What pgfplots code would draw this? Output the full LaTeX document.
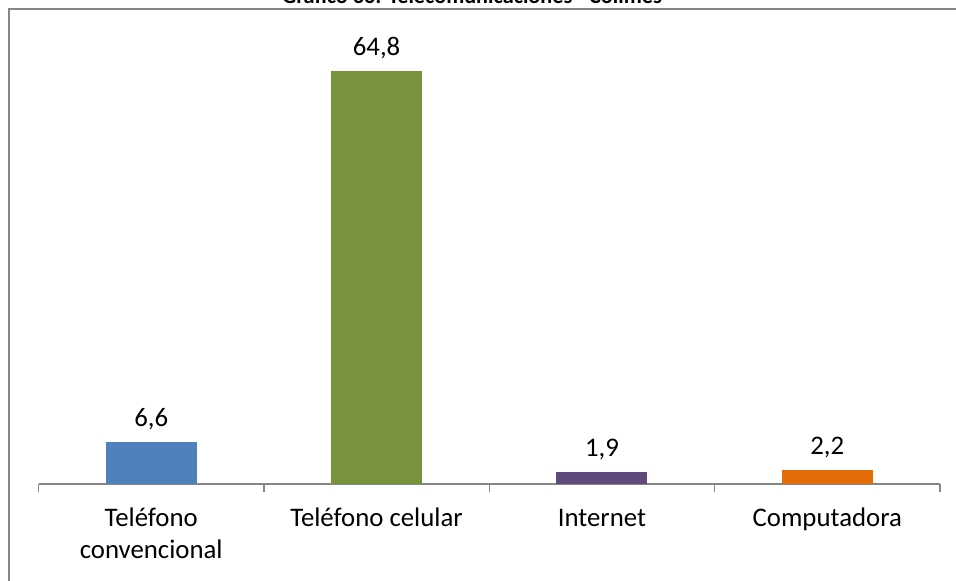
\documentclass[border=0pt]{standalone}
\usepackage{pgfplots}
\pgfplotsset{compat=1.18}
\usepackage{fontspec}
\setmainfont{Carlito}
\definecolor{cblue}{HTML}{4F81BD}
\definecolor{cgreen}{HTML}{77933C}
\definecolor{cpurple}{HTML}{604A7B}
\definecolor{corange}{HTML}{E36C09}
\definecolor{framegray}{HTML}{868686}
\begin{document}
\begin{tikzpicture}
\useasboundingbox (0pt,0pt) rectangle (478pt,-290.5pt);
\node[anchor=base,font=\fontsize{11.1}{13}\selectfont\bfseries,inner sep=0pt] at (236pt,-2pt) {Gráfico 36: Telecomunicaciones - Colimes};
\draw[framegray,line width=0.8pt] (480pt,-4.4pt) -- (4.4pt,-4.4pt) -- (4.4pt,-295pt);
\begin{axis}[
  at={(19.25pt,-242pt)}, anchor=south west,
  scale only axis, width=450.75pt, height=223pt,
  xmin=-0.5, xmax=3.5, ymin=0, ymax=70,
  axis x line*=bottom, axis y line=none,
  x axis line style={framegray,line width=0.7pt},
  xtick={0,1,2,3},
  xticklabels={{\strut Teléfono\\convencional},{\strut Teléfono celular},{\strut Internet},{\strut Computadora}},
  xticklabel style={align=center,font=\fontsize{13.4}{16}\selectfont,text=black,yshift=-6.5pt},
  major tick length=0pt,
  minor xtick={-0.5,0.5,1.5,2.5,3.5},
  minor tick length=4pt,
  tick align=outside,
  minor tick style={framegray,line width=0.7pt},
  ybar, bar width=45.5pt,
  nodes near coords,
  nodes near coords style={font=\fontsize{13.4}{16}\selectfont,text=black,yshift=2.4pt},
  /pgf/number format/.cd, use comma, fixed, fixed zerofill, precision=1, assume math mode=true,
]
\addplot[fill=cblue,draw=none,bar shift=0pt] coordinates {(0,6.6)};
\addplot[fill=cgreen,draw=none,bar shift=0pt] coordinates {(1,64.8)};
\addplot[fill=cpurple,draw=none,bar shift=0pt] coordinates {(2,1.9)};
\addplot[fill=corange,draw=none,bar shift=0pt] coordinates {(3,2.2)};
\end{axis}
\end{tikzpicture}
\end{document}
